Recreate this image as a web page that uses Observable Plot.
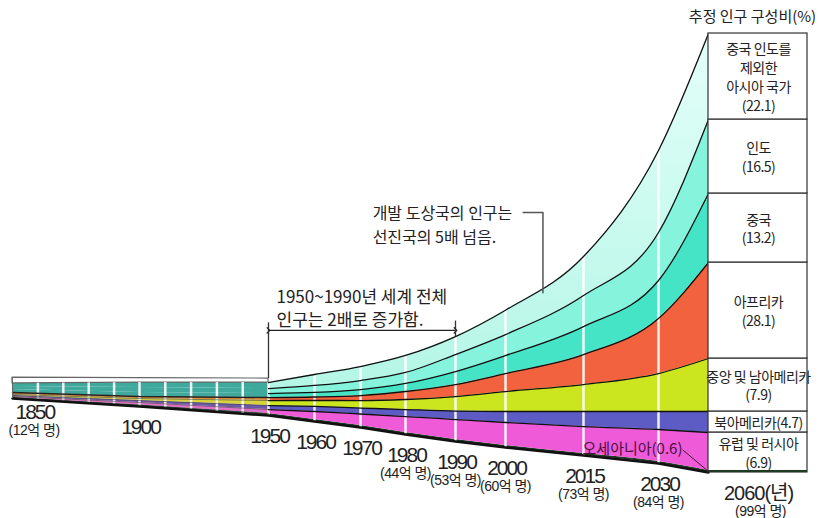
<!DOCTYPE html>
<html><head><meta charset="utf-8">
<script src="https://cdn.jsdelivr.net/npm/d3@7"></script>
<script src="https://cdn.jsdelivr.net/npm/@observablehq/plot@0.6"></script>
<style>
body{margin:0;background:#fff;}
#chart svg{display:block;font-family:"Noto Sans CJK KR","Noto Sans",sans-serif;}
</style></head><body><div id="chart"></div>
<script>
// ---- data (visual layer thickness, arbitrary units) ----
const years = [1850, 1900, 1950, 1960, 1970, 1980, 1990, 2000, 2015, 2030, 2060];
const floorLevel   = [16.93, 15.12, 13.09, 11.74, 10.38, 8.80, 7.22, 5.87, 4.06, 2.26, 0.23];
const oceania      = [0.23, 0.34, 0.45, 0.45, 0.45, 0.45, 0.45, 0.45, 0.45, 0.45, 0.45];
const europe       = [0.23, 0.56, 0.90, 1.81, 2.60, 3.61, 4.51, 5.19, 6.09, 7.22, 8.58];
const northAmerica = [0.23, 0.45, 0.90, 1.13, 1.35, 1.58, 1.92, 2.48, 3.39, 4.06, 4.74];
const latinAmerica = [0.23, 0.45, 1.13, 1.35, 1.69, 2.26, 3.27, 4.51, 6.09, 8.58, 11.96];
const africa       = [0.45, 0.45, 0.68, 0.79, 1.13, 1.81, 2.71, 4.06, 6.77, 12.42, 21.67];
const china        = [0.68, 0.90, 0.90, 1.02, 1.35, 1.81, 2.93, 4.06, 6.32, 8.58, 15.58];
const india        = [0.68, 1.13, 1.13, 1.58, 2.03, 2.48, 3.84, 4.74, 7.00, 10.84, 16.70];
const otherAsia    = [0.68, 1.13, 1.35, 2.48, 3.16, 3.84, 4.06, 5.50, 8.80, 18.51, 19.41];
const topFace      = [1.3, 1.0, 0.9]; // 1850, 1900, 1950 (3-D top face of the past strip)

const tickLabels = ["1850", "1900", "1950", "1960", "1970", "1980", "1990", "2000", "2015", "2030", "2060(년)"];
const totalLabels = ["(12억 명)", "", "", "", "", "(44억 명)", "(53억 명)", "(60억 명)", "(73억 명)", "(84억 명)", "(99억 명)"];
const shareLabels = ["유럽 및 러시아\n(6.9)", "북아메리카(4.7)", "중앙 및 남아메리카\n(7.9)", "아프리카\n(28.1)", "중국\n(13.2)", "인도\n(16.5)", "중국 인도를\n제외한\n아시아 국가\n(22.1)"];
const shareTitle = "추정 인구 구성비(%)";
const note1 = "1950~1990년 세계 전체\n인구는 2배로 증가함.";
const note2 = "개발 도상국의 인구는\n선진국의 5배 넘음.";
const oceaniaNote = "오세아니아(0.6)";

// perspective-like time axis (the drawing widens time toward the future)
const timeWarp = d3.scaleLinear().domain(years).range([12, 139, 268, 314, 360, 405, 455, 505, 583, 658, 708]);

// ---- layer specs ----
const series = [oceania, europe, northAmerica, latinAmerica, africa, china, india, otherAsia];
const pastColors = ["#24402a", "#e070c8", "#6a58a8", "#d8d23c", "#d8883c", "#3ea99c", "#3ea99c", "#3ea99c"];
const nowColors  = ["#1e3a22", "#ee5ad8", "#5c5cc4", "#cbe61e", "#f2623e", "#46e4c6", "#86f3dc", "url(#gAsia)"];

let base = floorLevel.slice();
const stacked = series.map(vals => {
  const arr = years.map((yr, i) => ({year: yr, y1: base[i], y2: base[i] + vals[i]}));
  base = arr.map(d => d.y2);
  return arr;
});
const topLevel = base;
const past = arr => arr.filter(d => d.year <= 1950);
const now = arr => arr.filter(d => d.year >= 1950);

const faceRows = years.slice(0, 3).map((yr, i) => ({year: yr, y1: topLevel[i], y2: topLevel[i] + topFace[i]}));
const interpTop = d3.scaleLinear().domain(years).range(topLevel);
const interpFloor = d3.scaleLinear().domain(years).range(floorLevel);
const decadeRules = d3.range(1860, 1950, 10).map(yr => ({year: yr, lo: interpFloor(yr), hi: interpTop(yr)}))
  .concat(years.filter(y => y >= 1950 && y < 2060).map(yr => {
    const i = years.indexOf(yr); return {year: yr, lo: floorLevel[i], hi: topLevel[i]};
  }));

const last = years.length - 1;
const cells = [
  {x: 2060, y1: floorLevel[last], y2: stacked[1][last].y2, label: shareLabels[0]},
  ...[2, 3, 4, 5, 6, 7].map((k, j) => ({x: 2060, y1: stacked[k][last].y1, y2: stacked[k][last].y2, label: shareLabels[j + 1]}))
];
const ticks = years.map((yr, i) => ({year: yr, v: floorLevel[i], label: tickLabels[i], total: totalLabels[i]}));

const arrowLevel = 32.3;
const i1950 = years.indexOf(1950), i1990 = years.indexOf(1990);

const marks = [];
stacked.forEach((arr, k) => {
  marks.push(Plot.areaY(past(arr), {x: "year", y1: "y1", y2: "y2", fill: pastColors[k], curve: "linear"}));
  marks.push(Plot.areaY(now(arr), {x: "year", y1: "y1", y2: "y2", fill: nowColors[k], curve: "monotone-x"}));
});
marks.push(Plot.areaY(faceRows, {x: "year", y1: "y1", y2: "y2", fill: "white", stroke: "#666", strokeWidth: 1.2}));
marks.push(Plot.ruleX(decadeRules, {x: "year", y1: "lo", y2: "hi", stroke: "white", strokeWidth: 2.5, strokeOpacity: 0.9}));
stacked.forEach((arr, k) => {
  if (k < 5) marks.push(Plot.line(past(arr), {x: "year", y: "y2", stroke: k === 4 ? "#222" : "#444", strokeWidth: k === 4 ? 1.4 : 0.6}));
  if (k >= 1) marks.push(Plot.line(now(arr), {x: "year", y: "y2", stroke: "#111", strokeWidth: 1.3, curve: "monotone-x"}));
});
marks.push(Plot.line(years.map((yr, i) => ({year: yr, v: floorLevel[i]})), {x: "year", y: "v", stroke: "#111", strokeWidth: 2.5}));
marks.push(Plot.ruleX([{year: 1850, lo: floorLevel[0], hi: topLevel[0] + topFace[0]}], {x: "year", y1: "lo", y2: "hi", stroke: "#666", strokeWidth: 1}));

// share box
marks.push(Plot.rect(cells, {x1: "x", x2: "x", y1: "y1", y2: "y2", insetRight: -99, fill: "white", stroke: "#333", strokeWidth: 1.2}));
marks.push(Plot.rect([{x: 2060, y1: floorLevel[last], y2: stacked[0][last].y2}], {x1: "x", x2: "x", y1: "y1", y2: "y2", insetRight: -99, fill: "#1e3a22"}));
marks.push(Plot.text(cells, {x: "x", y: d => (d.y1 + d.y2) / 2, text: "label", dx: 50, fontSize: 14, lineHeight: 1.35, fill: "#222"}));
marks.push(Plot.text([{x: 2060, v: 102.9}], {x: "x", y: "v", text: () => shareTitle, dx: 44, fontSize: 15, fill: "#222"}));

// year labels
const yearFont = "'Liberation Sans','Noto Sans CJK KR',sans-serif";
marks.push(Plot.text(ticks.filter(d => d.year === 1850), {x: "year", y: "v", text: "label", dy: 14, dx: 3, textAnchor: "start", fontSize: 21, fontFamily: yearFont, fill: "#222"}));
marks.push(Plot.text(ticks.filter(d => d.year > 1850 && d.year < 2060), {x: "year", y: "v", text: "label", dy: 21, dx: 1, fontSize: 21, fontFamily: yearFont, fill: "#222"}));
marks.push(Plot.text(ticks.filter(d => d.year === 2060), {x: "year", y: "v", text: "label", dy: 21, dx: 50, fontSize: 20, fontFamily: yearFont, fill: "#222"}));
marks.push(Plot.text(ticks.filter(d => d.year === 1850), {x: "year", y: "v", text: "total", dy: 32, dx: -4, textAnchor: "start", fontSize: 14, fontFamily: yearFont, fill: "#222"}));
marks.push(Plot.text(ticks.filter(d => d.total && d.year > 1850 && d.year < 2060), {x: "year", y: "v", text: "total", dy: 39, fontSize: 14, fontFamily: yearFont, fill: "#222"}));
marks.push(Plot.text(ticks.filter(d => d.year === 2060), {x: "year", y: "v", text: "total", dy: 39, dx: 52, fontSize: 14, fontFamily: yearFont, fill: "#222"}));

// annotation 1950-1990
marks.push(Plot.line([{year: 1950, v: arrowLevel}, {year: 1990, v: arrowLevel}], {x: "year", y: "v", stroke: "#222", strokeWidth: 1.3, markerStart: "arrow", markerEnd: "arrow"}));
marks.push(Plot.ruleX([
  {year: 1950, a: arrowLevel + 1.7, b: topLevel[i1950] + topFace[2]},
  {year: 1990, a: arrowLevel + 2.1, b: topLevel[i1990]}
], {x: "year", y1: "a", y2: "b", stroke: "#333", strokeWidth: 1.3}));
marks.push(Plot.text([{year: 1950, v: 37.5}], {x: "year", y: "v", text: () => note1, dx: 8, textAnchor: "start", fontSize: 17, lineHeight: 1.35, fill: "#222"}));
marks.push(Plot.text([{year: 1972.7, v: 56.4}], {x: "year", y: "v", text: () => note2, textAnchor: "start", fontSize: 16, lineHeight: 1.5, fill: "#222"}));
marks.push(Plot.line([{year: 2003.4, v: 58.9}, {year: 2007.2, v: 58.9}, {year: 2007.2, v: 40.8}], {x: "year", y: "v", stroke: "#555", strokeWidth: 1.5}));
marks.push(Plot.text([{year: 2044.4, v: 5.6}], {x: "year", y: "v", text: () => oceaniaNote, textAnchor: "end", fontSize: 15, fill: "#4a1040"}));
marks.push(Plot.line([{year: 2044.6, v: 5.3}, {year: 2060, v: 0.45}], {x: "year", y: "v", stroke: "#4a1040", strokeWidth: 1}));

const svg = Plot.plot({
  width: 820, height: 518,
  marginTop: 0, marginRight: 0, marginBottom: 0, marginLeft: 0,
  x: {type: "linear", transform: timeWarp, domain: [0, 820], range: [0, 820], axis: null},
  y: {domain: [0, 100], range: [473, 30], axis: null},
  style: {background: "white", fontFamily: "'Noto Sans CJK KR','Noto Sans',sans-serif", overflow: "visible"},
  marks
});
d3.select(svg).insert("defs", ":first-child").html(
  '<linearGradient id="gAsia" x1="0" y1="0" x2="0" y2="1"><stop offset="0" stop-color="#e4fff9"/><stop offset="1" stop-color="#b4f6e6"/></linearGradient>'
);
d3.select(svg).selectAll('g[font-size="21"] text').style("letter-spacing", "-2px");
d3.select(svg).selectAll('g[font-size="20"] text').style("letter-spacing", "-1px");
d3.select(svg).selectAll('g[font-size="14"] text').style("letter-spacing", "-0.5px");
document.getElementById("chart").appendChild(svg);
</script></body></html>
